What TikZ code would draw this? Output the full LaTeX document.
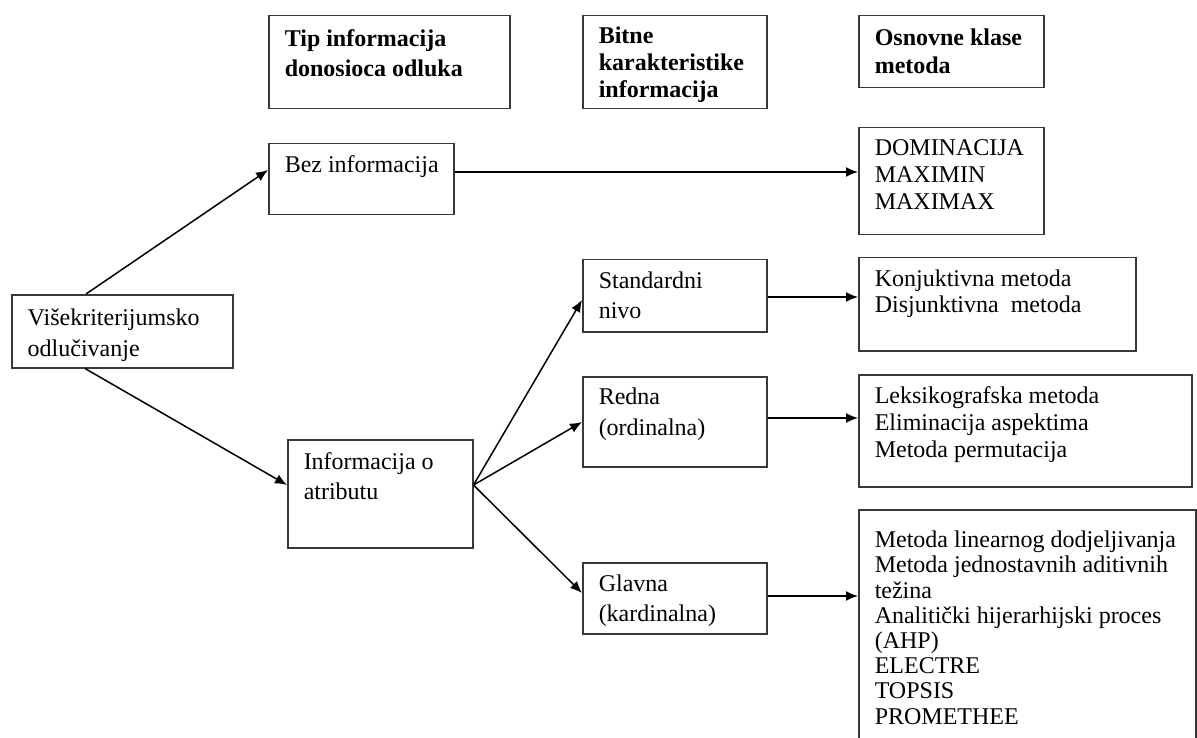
\documentclass[tikz,border=0pt]{standalone}
\usepackage{fontspec}
\setmainfont{Liberation Serif}
\usetikzlibrary{arrows.meta,calc}
\newcommand{\bxt}[5]{\parbox[c][#2pt][t]{#1pt}{\fontsize{24pt}{#4pt}\selectfont\raggedright\leftskip=16pt\rule{0pt}{#3pt}#5}}
\begin{document}
\begin{tikzpicture}[x=1pt,y=-1pt,
  box/.style={draw=black!78, line width=1.5pt, anchor=north west, inner sep=0pt},
  arr/.style={draw=black, line width=1.5pt, -{Latex[length=12pt,width=10pt]}}]
\useasboundingbox (0,0) rectangle (1197,738);
\fill[white] (0,0) rectangle (1197,738);
\clip (0,0) rectangle (1197,738);
% headers
\node[box] (t1) at (268,15) {\bxt{241}{93}{31}{30}{\bfseries Tip informacija\\donosioca odluka}};
\node[box] (t2) at (582,15) {\bxt{184}{93}{28}{27}{\bfseries Bitne\\karakteristike\\informacija}};
\node[box] (t3) at (858,15) {\bxt{185}{72}{30}{28}{\bfseries Osnovne klase\\metoda}};
% left column
\node[box] (vis) at (11,294) {\bxt{221}{73}{31}{31}{Višekriterijumsko\\odlučivanje}};
\node[box] (bez) at (268,143) {\bxt{185}{71}{29}{30}{Bez informacija}};
\node[box] (info) at (287,439) {\bxt{185}{108}{30}{30}{Informacija o\\atributu}};
% middle column
\node[box] (std) at (582,259) {\bxt{184}{72}{29}{30}{Standardni\\nivo}};
\node[box] (red) at (582,376) {\bxt{184}{90}{28}{31}{Redna\\(ordinalna)}};
\node[box] (gla) at (582,562) {\bxt{184}{71}{29}{30}{Glavna\\(kardinalna)}};
% right column
\node[box] (dom) at (858,127) {\bxt{185}{107}{28}{27}{DOMINACIJA\\MAXIMIN\\MAXIMAX}};
\node[box] (konj) at (858,257) {\bxt{277}{93}{29}{26}{Konjuktivna metoda\\Disjunktivna~ metoda}};
\node[box] (leks) at (858,374) {\bxt{333}{112}{29}{27}{Leksikografska metoda\\Eliminacija aspektima\\Metoda permutacija}};
\node[box] (met) at (858,509) {\bxt{337}{260}{38}{25.2}{Metoda linearnog dodjeljivanja\\Metoda jednostavnih aditivnih\\težina\\Analitički hijerarhijski proces\\(AHP)\\ELECTRE\\TOPSIS\\PROMETHEE}};
% connectors
\draw[arr] ($(vis.north west)+(75,0)$) -- ($(bez.north west)+(0,27)$);
\draw[arr] ($(vis.south west)+(74,0)$) -- ($(info.north west)+(0,46)$);
\draw[arr] ($(bez.north east)+(0,29)$) coordinate (b1) -- (b1 -| dom.west);
\coordinate (i1) at ($(info.north east)+(0,46)$);
\draw[arr] (i1) -- ($(std.north west)+(0,41)$);
\draw[arr] (i1) -- ($(red.north west)+(0,46)$);
\draw[arr] (i1) -- ($(gla.north west)+(0,31)$);
\draw[arr] ($(std.north east)+(0,38)$) coordinate (s1) -- (s1 -| konj.west);
\draw[arr] ($(red.north east)+(0,42)$) coordinate (r1) -- (r1 -| leks.west);
\draw[arr] ($(gla.north east)+(0,34)$) coordinate (g1) -- (g1 -| met.west);
\end{tikzpicture}
\end{document}
